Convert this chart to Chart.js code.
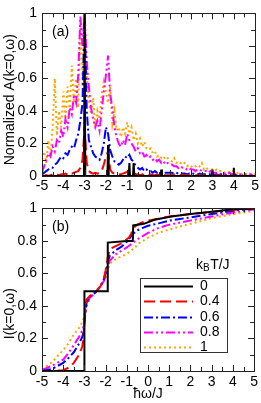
<!DOCTYPE html>
<html>
<head>
<meta charset="utf-8">
<script src="https://cdn.jsdelivr.net/npm/chart.js@4.4.1/dist/chart.umd.min.js"></script>
<style>
  html, body { margin: 0; padding: 0; background: #fff; }
  body { width: 261px; height: 403px; position: relative; overflow: hidden; }
  .panel { position: absolute; left: 0; width: 261px; }
  #panelA { top: 0; height: 195px; }
  #panelB { top: 195px; height: 208px; }
</style>
</head>
<body>
<div class="panel" id="panelA"><canvas id="chartA"></canvas></div>
<div class="panel" id="panelB"><canvas id="chartB"></canvas></div>
<script>
const FONT = '"Liberation Sans", Arial, sans-serif';
const FS = 14;

// kB T / J for each curve
const temps = ['0', '0.4', '0.6', '0.8', '1'];
const colors = ['#000000', '#ff0000', '#0000ff', '#ff00ff', '#ffa500'];
const dashes = [[], [11, 5], [9, 3, 2, 3], [9, 3, 2, 3, 2, 3], [2, 3]];

const xTicks = [-5, -4, -3, -2, -1, 0, 1, 2, 3, 4, 5];
const yTicks = [0, 0.2, 0.4, 0.6, 0.8, 1];

// ---- panel (a): normalized A(k=0,w) ----
const omegaA = [
  -5, -4.9, -4.8, -4.7, -4.6, -4.5, -4.4, -4.3, -4.2, -4.1,
  -4, -3.9, -3.8, -3.7, -3.6, -3.5, -3.4, -3.3, -3.2, -3.1,
  -3, -2.9, -2.8, -2.7, -2.6, -2.5, -2.4, -2.3, -2.2, -2.1,
  -2, -1.9, -1.8, -1.7, -1.6, -1.5, -1.4, -1.3, -1.2, -1.1,
  -1, -0.9, -0.8, -0.7, -0.6, -0.5, -0.4, -0.3, -0.2, -0.1,
  0, 0.1, 0.2, 0.3, 0.4, 0.5, 0.6, 0.7, 0.8, 0.9,
  1, 1.1, 1.2, 1.3, 1.4, 1.5, 1.6, 1.7, 1.8, 1.9,
  2, 2.1, 2.2, 2.3, 2.4, 2.5, 2.6, 2.7, 2.8, 2.9,
  3, 3.1, 3.2, 3.3, 3.4, 3.5, 3.6, 3.7, 3.8, 3.9,
  4, 4.1, 4.2, 4.3, 4.4, 4.5, 4.6, 4.7, 4.8, 4.9,
  5
];

const specBlackX = [-5, -3.03, -3, -2.97, -1.93, -1.9, -1.87, -0.93, -0.9, -0.87, -0.73, -0.7, -0.67,
  0.57, 0.6, 0.63, 2.97, 3, 3.03, 3.97, 4, 4.03, 5];
const specBlackY = [0, 0, 1, 0, 0, 0.19, 0, 0, 0.08, 0, 0, 0.08, 0,
  0, 0.04, 0, 0, 0.04, 0, 0, 0.05, 0, 0];

const specRed = [
  0, 0, 0.005, 0, 0.005, 0.01, 0.005, 0.01, 0.005, 0.01,
  0.01, 0.015, 0.01, 0.02, 0.015, 0.02, 0.025, 0.03, 0.05, 0.10,
  0.30, 0.08, 0.03, 0.02, 0.015, 0.02, 0.015, 0.02, 0.03, 0.07,
  0.12, 0.15, 0.04, 0.02, 0.015, 0.01, 0.01, 0.01, 0.015, 0.02,
  0.025, 0.03, 0.03, 0.02, 0.01, 0.01, 0.005, 0.01, 0.005, 0.01,
  0.005, 0.01, 0.005, 0.005, 0.01, 0.005, 0.005, 0.005, 0.005, 0.005,
  0.005, 0.005, 0.01, 0.005, 0.005, 0.005, 0.01, 0.005, 0.005, 0.005,
  0.005, 0.005, 0.005, 0.005, 0.005, 0.005, 0.005, 0, 0.005, 0.005,
  0.005, 0, 0.005, 0, 0.005, 0, 0.005, 0, 0, 0.005,
  0, 0, 0.005, 0, 0, 0, 0, 0, 0, 0,
  0
];

const specBlue = [
  0.01, 0.02, 0.03, 0.04, 0.05, 0.05, 0.07, 0.08, 0.10, 0.12,
  0.11, 0.14, 0.13, 0.16, 0.18, 0.17, 0.22, 0.26, 0.34, 0.45,
  1.00, 0.40, 0.22, 0.18, 0.14, 0.12, 0.11, 0.10, 0.14, 0.20,
  0.30, 0.26, 0.16, 0.12, 0.09, 0.08, 0.07, 0.08, 0.10, 0.12,
  0.11, 0.13, 0.10, 0.09, 0.06, 0.05, 0.04, 0.05, 0.03, 0.04,
  0.03, 0.03, 0.02, 0.03, 0.02, 0.02, 0.03, 0.02, 0.02, 0.02,
  0.02, 0.02, 0.015, 0.02, 0.015, 0.02, 0.015, 0.015, 0.01, 0.015,
  0.01, 0.015, 0.01, 0.01, 0.015, 0.01, 0.01, 0.01, 0.01, 0.01,
  0.01, 0.005, 0.01, 0.005, 0.01, 0.005, 0.005, 0.005, 0.005, 0.005,
  0.005, 0.005, 0, 0.005, 0, 0.005, 0, 0, 0, 0,
  0
];

const specMagenta = [
  0.02, 0.06, 0.10, 0.14, 0.12, 0.18, 0.15, 0.22, 0.20, 0.28,
  0.24, 0.35, 0.30, 0.42, 0.38, 0.50, 0.45, 0.62, 0.98, 0.80,
  1.00, 0.70, 0.55, 0.42, 0.35, 0.30, 0.34, 0.28, 0.40, 0.52,
  0.62, 0.74, 0.50, 0.42, 0.30, 0.24, 0.20, 0.18, 0.22, 0.19,
  0.26, 0.22, 0.20, 0.18, 0.15, 0.17, 0.14, 0.15, 0.12, 0.13,
  0.11, 0.12, 0.10, 0.11, 0.09, 0.10, 0.08, 0.09, 0.07, 0.08,
  0.07, 0.07, 0.06, 0.06, 0.05, 0.06, 0.05, 0.05, 0.04, 0.05,
  0.04, 0.04, 0.03, 0.04, 0.04, 0.03, 0.03, 0.03, 0.02, 0.03,
  0.02, 0.02, 0.02, 0.02, 0.01, 0.02, 0.01, 0.01, 0.02, 0.01,
  0.01, 0.01, 0.01, 0.01, 0.01, 0.01, 0.01, 0, 0.01, 0,
  0
];

const specOrange = [
  0.10, 0.15, 0.08, 0.22, 0.12, 0.30, 0.60, 0.25, 0.40, 0.30,
  0.52, 0.35, 0.55, 0.40, 0.68, 0.45, 0.60, 0.42, 0.95, 0.55,
  1.00, 0.62, 0.45, 0.38, 0.48, 0.30, 0.40, 0.35, 0.50, 0.58,
  0.52, 0.45, 0.55, 0.32, 0.40, 0.28, 0.30, 0.24, 0.30, 0.26,
  0.33, 0.26, 0.30, 0.22, 0.26, 0.20, 0.23, 0.18, 0.21, 0.17,
  0.16, 0.17, 0.14, 0.15, 0.12, 0.13, 0.11, 0.12, 0.10, 0.11,
  0.10, 0.09, 0.11, 0.08, 0.09, 0.08, 0.07, 0.08, 0.06, 0.07,
  0.06, 0.05, 0.06, 0.05, 0.06, 0.08, 0.04, 0.05, 0.04, 0.04,
  0.04, 0.03, 0.04, 0.03, 0.03, 0.03, 0.02, 0.03, 0.02, 0.03,
  0.03, 0.02, 0.02, 0.02, 0.01, 0.02, 0.01, 0.02, 0.01, 0.01,
  0.01
];

// ---- panel (b): integrated weight I(k=0,w) ----
const omegaB = [-5, -4.5, -4, -3.75, -3.5, -3.25, -3.1, -3.05, -3, -2.95,
  -2.9, -2.75, -2.5, -2.25, -2.1, -2, -1.9, -1.8, -1.5, -1.25,
  -1, -0.9, -0.8, -0.7, -0.6, -0.5, -0.25, 0, 0.5, 1,
  1.5, 2, 2.5, 3, 3.5, 4, 4.5, 5];

const intBlackX = [-5, -3, -3, -1.9, -1.9, -1.0, -0.72, -0.7, -0.2, 0.3, 1.1, 2, 3, 4, 5];
const intBlackY = [0, 0, 0.49, 0.49, 0.79, 0.8, 0.8, 0.895, 0.905, 0.93, 0.95, 0.965, 0.98, 0.995, 1];

const intRed = [0, 0, 0.005, 0.02, 0.05, 0.1, 0.15, 0.2, 0.3, 0.4,
  0.44, 0.46, 0.48, 0.52, 0.56, 0.62, 0.7, 0.75, 0.77, 0.785,
  0.81, 0.82, 0.845, 0.875, 0.89, 0.9, 0.915, 0.925, 0.937, 0.95,
  0.958, 0.965, 0.972, 0.978, 0.985, 0.99, 0.995, 1.0];
const intBlue = [0, 0.014, 0.05, 0.08, 0.115, 0.17, 0.21, 0.24, 0.29, 0.36,
  0.42, 0.46, 0.48, 0.52, 0.56, 0.6, 0.67, 0.71, 0.745, 0.765,
  0.795, 0.81, 0.83, 0.845, 0.855, 0.865, 0.88, 0.893, 0.908, 0.925,
  0.935, 0.945, 0.955, 0.965, 0.975, 0.985, 0.993, 1.0];
const intMagenta = [0.005, 0.034, 0.07, 0.11, 0.16, 0.21, 0.25, 0.27, 0.31, 0.36,
  0.4, 0.45, 0.48, 0.52, 0.55, 0.58, 0.64, 0.68, 0.72, 0.74,
  0.76, 0.77, 0.78, 0.79, 0.8, 0.81, 0.83, 0.85, 0.88, 0.9,
  0.913, 0.925, 0.938, 0.95, 0.963, 0.975, 0.985, 0.995];
const intOrange = [0.01, 0.058, 0.13, 0.17, 0.225, 0.265, 0.3, 0.32, 0.35, 0.39,
  0.43, 0.46, 0.49, 0.52, 0.55, 0.575, 0.62, 0.66, 0.69, 0.705,
  0.72, 0.73, 0.74, 0.75, 0.76, 0.78, 0.8, 0.82, 0.85, 0.87,
  0.888, 0.905, 0.922, 0.94, 0.952, 0.965, 0.975, 0.985];

function pts(xs, ys) {
  return xs.map((x, i) => ({ x: x, y: ys[i] }));
}

function makeSets(series, width) {
  return series.map((s, i) => ({
    label: temps[i],
    data: pts(s[0], s[1]),
    borderColor: colors[i],
    borderDash: dashes[i],
    borderWidth: width,
    pointRadius: 0,
    fill: false,
    tension: 0
  }));
}

// box frame with inward ticks on all four sides
const framePlugin = {
  id: 'frame',
  afterDatasetsDraw(chart) {
    const { ctx, chartArea: a, scales } = chart;
    const sx = scales.x, sy = scales.y;
    const r = v => Math.round(v) + 0.5;
    ctx.save();
    ctx.strokeStyle = '#222';
    ctx.lineWidth = 1;
    ctx.beginPath();
    const tx = (v, len) => {
      const p = r(sx.getPixelForValue(v));
      ctx.moveTo(p, a.bottom); ctx.lineTo(p, a.bottom - len);
      ctx.moveTo(p, a.top); ctx.lineTo(p, a.top + len);
    };
    const ty = (v, len) => {
      const p = r(sy.getPixelForValue(v));
      ctx.moveTo(a.left, p); ctx.lineTo(a.left + len, p);
      ctx.moveTo(a.right, p); ctx.lineTo(a.right - len, p);
    };
    xTicks.forEach((v, i) => {
      tx(v, 6);
      if (i < xTicks.length - 1) tx((v + xTicks[i + 1]) / 2, 4);
    });
    yTicks.forEach((v, i) => {
      ty(v, 6);
      if (i < yTicks.length - 1) ty((v + yTicks[i + 1]) / 2, 4);
    });
    ctx.stroke();
    ctx.strokeRect(r(a.left), r(a.top), Math.round(a.right - a.left), Math.round(a.bottom - a.top));
    ctx.restore();
  }
};

// rotated y title and panel tag
const textPlugin = {
  id: 'texts',
  afterDraw(chart, args, opts) {
    const { ctx, chartArea: a } = chart;
    ctx.save();
    ctx.fillStyle = '#000';
    ctx.font = FS + 'px ' + FONT;
    ctx.textBaseline = 'middle';
    ctx.textAlign = 'left';
    ctx.fillText(opts.tag, a.left + 10, a.top + 19);
    ctx.translate(opts.titleX, (a.top + a.bottom) / 2 + opts.shift);
    ctx.rotate(-Math.PI / 2);
    ctx.textAlign = 'center';
    ctx.fillText(opts.title, 0, 0);
    ctx.restore();
  }
};

const legendPlugin = {
  id: 'boxLegend',
  afterDraw(chart, args, opts) {
    if (!opts.show) return;
    const { ctx, chartArea: a } = chart;
    const w = a.right - a.left, h = a.bottom - a.top;
    const L = a.left + 0.462 * w, R = a.left + 0.874 * w;
    const T = a.top + 0.426 * h, B = a.top + 0.883 * h;
    ctx.save();
    ctx.fillStyle = '#fff';
    ctx.fillRect(L, T, R - L, B - T);
    ctx.strokeStyle = '#333';
    ctx.lineWidth = 1;
    ctx.strokeRect(Math.round(L) + 0.5, Math.round(T) + 0.5, Math.round(R - L), Math.round(B - T));

    // title kB T/J
    ctx.fillStyle = '#000';
    ctx.textBaseline = 'middle';
    ctx.textAlign = 'left';
    let tx = L + 56;
    const ty = T - 13;
    ctx.font = FS + 'px ' + FONT;
    ctx.fillText('k', tx, ty);
    tx += ctx.measureText('k').width;
    ctx.font = '10px ' + FONT;
    ctx.fillText('B', tx, ty + 4);
    tx += ctx.measureText('B').width + 0.5;
    ctx.font = FS + 'px ' + FONT;
    ctx.fillText('T/J', tx, ty);

    chart.data.datasets.forEach((ds, i) => {
      const y = Math.round(T + 8.5 + i * 15.2) + 0.5;
      ctx.strokeStyle = ds.borderColor;
      ctx.lineWidth = ds.borderWidth;
      ctx.setLineDash(ds.borderDash);
      ctx.beginPath();
      ctx.moveTo(L + 4, y);
      ctx.lineTo(L + 53, y);
      ctx.stroke();
      ctx.setLineDash([]);
      ctx.fillStyle = '#000';
      ctx.fillText(ds.label, L + 60, y);
    });
    ctx.restore();
  }
};

function baseOptions(xHeight, padTop, labelPad, xTitle) {
  return {
    responsive: true,
    maintainAspectRatio: false,
    animation: false,
    layout: { padding: { top: padTop, right: 5, left: 0, bottom: 0 } },
    plugins: { legend: { display: false }, tooltip: { enabled: false } },
    scales: {
      x: {
        type: 'linear', min: -5, max: 5,
        afterBuildTicks: s => { s.ticks = xTicks.map(v => ({ value: v })); },
        afterFit: s => { s.height = xHeight; },
        grid: { display: false, drawTicks: false },
        border: { display: false },
        ticks: { color: '#000', font: { family: FONT, size: FS }, padding: labelPad, maxRotation: 0, autoSkip: false,
                 callback: v => String(v) },
        title: xTitle
          ? { display: true, text: xTitle, color: '#000', font: { family: FONT, size: FS }, padding: { top: 0, bottom: 0 } }
          : { display: false }
      },
      y: {
        type: 'linear', min: 0, max: 1,
        afterBuildTicks: s => { s.ticks = yTicks.map(v => ({ value: v })); },
        afterFit: s => { s.width = 42; },
        grid: { display: false, drawTicks: false },
        border: { display: false },
        ticks: { color: '#000', font: { family: FONT, size: FS }, padding: 5, autoSkip: false,
                 callback: v => String(Math.round(v * 10) / 10) }
      }
    }
  };
}

const optsA = baseOptions(19, 6, 2, null);
optsA.plugins.texts = { tag: '(a)', title: 'Normalized A(k=0,\u03c9)', titleX: 10, shift: 5 };
optsA.plugins.boxLegend = { show: false };

new Chart(document.getElementById('chartA').getContext('2d'), {
  type: 'line',
  data: {
    datasets: makeSets([
      [specBlackX, specBlackY],
      [omegaA, specRed],
      [omegaA, specBlue],
      [omegaA, specMagenta],
      [omegaA, specOrange]
    ], 2)
  },
  options: optsA,
  plugins: [framePlugin, textPlugin, legendPlugin]
});

const optsB = baseOptions(32, 7, 3, '\u0127\u03c9/J');
optsB.plugins.texts = { tag: '(b)', title: 'I(k=0,\u03c9)', titleX: 10, shift: 24 };
optsB.plugins.boxLegend = { show: true };

new Chart(document.getElementById('chartB').getContext('2d'), {
  type: 'line',
  data: {
    datasets: makeSets([
      [intBlackX, intBlackY],
      [omegaB, intRed],
      [omegaB, intBlue],
      [omegaB, intMagenta],
      [omegaB, intOrange]
    ], 2)
  },
  options: optsB,
  plugins: [framePlugin, textPlugin, legendPlugin]
});
</script>
</body>
</html>
